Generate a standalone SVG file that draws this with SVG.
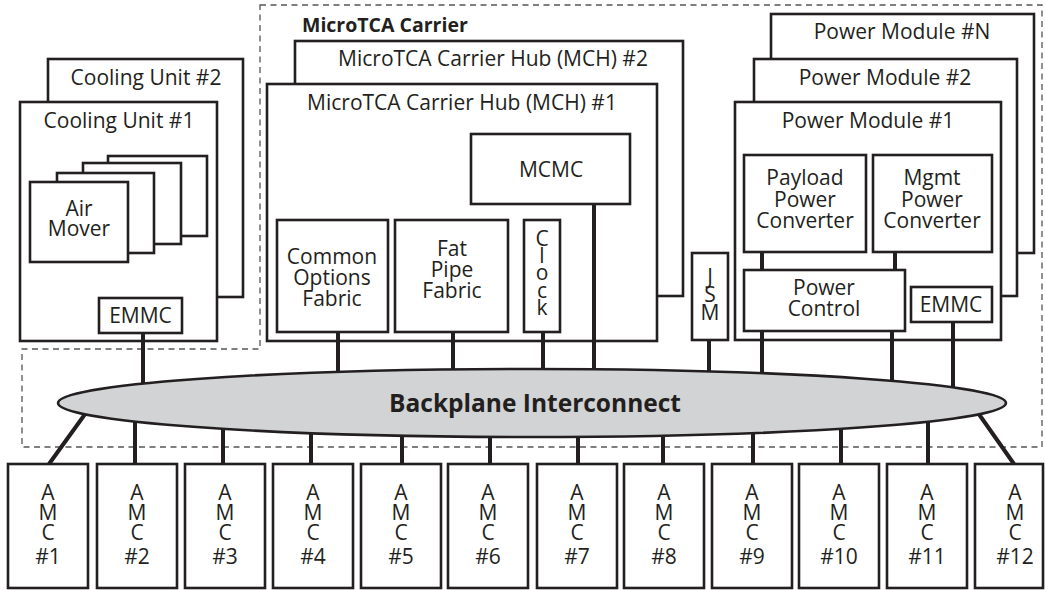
<svg xmlns="http://www.w3.org/2000/svg" width="1045" height="590" viewBox="0 0 1045 590">
<style>
.b{fill:#fff;stroke:#231f20;stroke-width:2.6}
.t{font-family:"Open Sans","Liberation Sans",sans-serif;font-size:21px;fill:#231f20;text-anchor:middle}
.v{font-family:"Open Sans","Liberation Sans",sans-serif;font-size:21px;fill:#231f20;writing-mode:vertical-rl;text-orientation:upright;text-anchor:start}
.a{letter-spacing:-7.6px}
.bt{font-family:"Open Sans","Liberation Sans",sans-serif;font-weight:bold;fill:#231f20}
.c{stroke:#231f20;stroke-width:4;fill:none}
.d{fill:none;stroke:#555;stroke-width:1.3;stroke-dasharray:6 4.5}
</style>
<g id="microtca-carrier">
<path class="d" d="M260,5 H1042 V447 H22 V349 H260 Z"/>
<text class="bt" x="302" y="32" font-size="19.5">MicroTCA Carrier</text>
</g>
<g id="cooling-unit-2">
<rect class="b" x="48" y="59" width="195" height="238"/>
<text class="t" x="146" y="85">Cooling Unit #2</text>
</g>
<g id="cooling-unit-1">
<rect class="b" x="20" y="102" width="197" height="239"/>
<text class="t" x="119" y="128">Cooling Unit #1</text>
</g>
<g id="air-mover">
<rect class="b" x="108" y="156" width="99" height="80"/>
<rect class="b" x="83" y="163" width="98" height="81"/>
<rect class="b" x="57" y="173" width="97" height="80"/>
<rect class="b" x="30" y="182" width="98" height="80"/>
<text class="t"><tspan x="79" y="216">Air</tspan><tspan x="79" y="236">Mover</tspan></text>
</g>
<g id="cooling-emmc">
<rect class="b" x="99" y="298" width="83" height="35"/>
<text class="t" x="140.5" y="323">EMMC</text>
</g>
<g id="mch-2">
<rect class="b" x="295" y="41" width="388" height="255"/>
<text class="t" x="493" y="66">MicroTCA Carrier Hub (MCH) #2</text>
</g>
<g id="mch-1">
<rect class="b" x="267" y="84" width="390" height="257"/>
<text class="t" x="462" y="110">MicroTCA Carrier Hub (MCH) #1</text>
</g>
<g id="mcmc">
<rect class="b" x="471" y="134" width="159" height="70"/>
<text class="t" x="551" y="177">MCMC</text>
</g>
<g id="common-options-fabric">
<rect class="b" x="277" y="220" width="111" height="112"/>
<text class="t"><tspan x="332" y="264">Common</tspan><tspan x="332" y="285">Options</tspan><tspan x="332" y="306">Fabric</tspan></text>
</g>
<g id="fat-pipe-fabric">
<rect class="b" x="395" y="220" width="113" height="112"/>
<text class="t"><tspan x="452" y="256">Fat</tspan><tspan x="452" y="277">Pipe</tspan><tspan x="452" y="298">Fabric</tspan></text>
</g>
<g id="clock">
<rect class="b" x="524" y="220" width="36" height="112"/>
<text class="v" x="542" y="223.6" style="letter-spacing:-10.6px">Clock</text>
</g>
<g id="jsm">
<rect class="b" x="692" y="253" width="36" height="87"/>
<text class="v" x="710" y="261.6" style="letter-spacing:-9.6px">JSM</text>
</g>
<g id="power-module-n">
<rect class="b" x="771" y="14" width="263" height="239"/>
<text class="t" x="902" y="39">Power Module #N</text>
</g>
<g id="power-module-2">
<rect class="b" x="754" y="59" width="263" height="237"/>
<text class="t" x="885" y="85">Power Module #2</text>
</g>
<g id="power-module-1">
<rect class="b" x="735" y="102" width="266" height="238"/>
<text class="t" x="868" y="128">Power Module #1</text>
</g>
<g id="payload-power-converter">
<rect class="b" x="744" y="155" width="122" height="97"/>
<text class="t"><tspan x="805" y="185">Payload</tspan><tspan x="805" y="207">Power</tspan><tspan x="805" y="228">Converter</tspan></text>
</g>
<g id="mgmt-power-converter">
<rect class="b" x="873" y="155" width="119" height="97"/>
<text class="t"><tspan x="932" y="185">Mgmt</tspan><tspan x="932" y="207">Power</tspan><tspan x="932" y="228">Converter</tspan></text>
</g>
<g id="power-control">
<rect class="b" x="744" y="270" width="161" height="61"/>
<text class="t"><tspan x="824" y="295">Power</tspan><tspan x="824" y="316">Control</tspan></text>
</g>
<g id="power-emmc">
<rect class="b" x="911" y="287" width="81" height="35"/>
<text class="t" x="951" y="312">EMMC</text>
</g>
<g id="amcs">
<g id="amc-1"><rect class="b" x="8" y="464" width="80" height="124"/><text class="v a" x="48" y="477.6">AMC</text><text class="t" x="48" y="564">#1</text></g>
<g id="amc-2"><rect class="b" x="97" y="464" width="80" height="124"/><text class="v a" x="137" y="477.6">AMC</text><text class="t" x="137" y="564">#2</text></g>
<g id="amc-3"><rect class="b" x="185" y="464" width="80" height="124"/><text class="v a" x="225" y="477.6">AMC</text><text class="t" x="225" y="564">#3</text></g>
<g id="amc-4"><rect class="b" x="273" y="464" width="80" height="124"/><text class="v a" x="313" y="477.6">AMC</text><text class="t" x="313" y="564">#4</text></g>
<g id="amc-5"><rect class="b" x="361" y="464" width="80" height="124"/><text class="v a" x="401" y="477.6">AMC</text><text class="t" x="401" y="564">#5</text></g>
<g id="amc-6"><rect class="b" x="448" y="464" width="80" height="124"/><text class="v a" x="488" y="477.6">AMC</text><text class="t" x="488" y="564">#6</text></g>
<g id="amc-7"><rect class="b" x="537" y="464" width="80" height="124"/><text class="v a" x="577" y="477.6">AMC</text><text class="t" x="577" y="564">#7</text></g>
<g id="amc-8"><rect class="b" x="624" y="464" width="80" height="124"/><text class="v a" x="664" y="477.6">AMC</text><text class="t" x="664" y="564">#8</text></g>
<g id="amc-9"><rect class="b" x="712" y="464" width="80" height="124"/><text class="v a" x="752" y="477.6">AMC</text><text class="t" x="752" y="564">#9</text></g>
<g id="amc-10"><rect class="b" x="799" y="464" width="80" height="124"/><text class="v a" x="839" y="477.6">AMC</text><text class="t" x="839" y="564">#10</text></g>
<g id="amc-11"><rect class="b" x="887" y="464" width="80" height="124"/><text class="v a" x="927" y="477.6">AMC</text><text class="t" x="927" y="564">#11</text></g>
<g id="amc-12"><rect class="b" x="975" y="464" width="68" height="124"/><text class="v a" x="1015" y="477.6">AMC</text><text class="t" x="1015" y="564">#12</text></g>
</g>
<g id="connectors">
<path class="c" d="M143,333 V400 M338,332 V400 M453,332 V400 M543,332 V400 M594,204 V400 M709,340 V400 M762,331 V400 M892,331 V400 M953,322 V400"/>
<path class="c" d="M762,252 V270 M895,252 V270"/>
<path class="c" d="M135,405 V464 M223,405 V464 M311,405 V464 M402,405 V464 M490,405 V464 M578,405 V464 M663,405 V464 M753,405 V464 M841,405 V464 M928,405 V464"/>
<path class="c" d="M49,464 L88,410 M1014,464 L976,410"/>
</g>
<g id="backplane-interconnect">
<ellipse cx="532" cy="403" rx="474" ry="34" fill="#d1d3d4" stroke="#231f20" stroke-width="2.6"/>
<text class="bt" x="535" y="412" font-size="24.5" text-anchor="middle">Backplane Interconnect</text>
</g>
</svg>
